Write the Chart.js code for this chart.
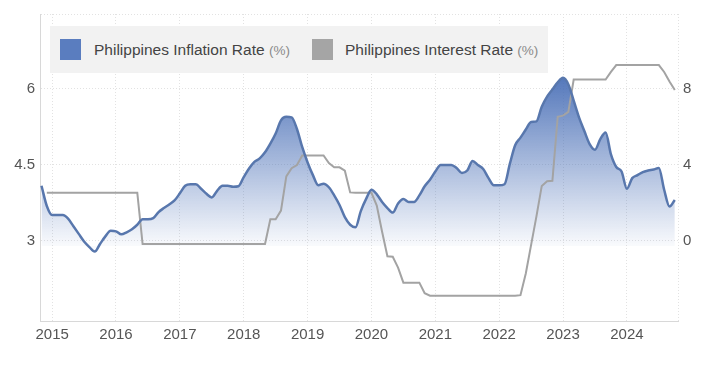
<!DOCTYPE html>
<html>
<head>
<meta charset="utf-8">
<script src="https://cdn.jsdelivr.net/npm/chart.js@4.4.1/dist/chart.umd.min.js"></script>
<style>
  html, body { margin: 0; padding: 0; background: #fff; }
  #wrap { position: relative; width: 720px; height: 365px; }
  #legend {
    position: absolute; left: 50px; top: 26px; width: 498px; height: 47px;
    background: #f2f2f2; color: #444;
    font-family: 'Liberation Sans', Arial, sans-serif; font-size: 15.5px;
  }
  .item { position: absolute; top: 0; height: 47px; line-height: 47px; white-space: nowrap; }
  .swatch { position: absolute; top: 13px; width: 21px; height: 21px; }
  .unit { font-size: 13.5px; color: #8a8a8a; }
</style>
</head>
<body>
<div id="wrap">
  <canvas id="chart" width="720" height="365"></canvas>
  <div id="legend">
    <div class="swatch" style="left:10px;background:#5a7dbf"></div>
    <div class="item" style="left:44px">Philippines Inflation Rate <span class="unit">(%)</span></div>
    <div class="swatch" style="left:262px;background:#a5a5a5"></div>
    <div class="item" style="left:295px">Philippines Interest Rate <span class="unit">(%)</span></div>
  </div>
</div>
<script>
// monthly observations, first one is Nov 2014
const startYear = 2014;
const startMonth = 11;

const inflation = [
  4.09, 3.69, 3.51, 3.51, 3.51, 3.44, 3.29, 3.14, 2.99, 2.88,
  2.79, 2.94, 3.09, 3.20, 3.19, 3.13, 3.17, 3.23, 3.32, 3.43,
  3.43, 3.45, 3.57, 3.65, 3.72, 3.80, 3.94, 4.09, 4.12, 4.12,
  4.03, 3.93, 3.86, 3.99, 4.09, 4.09, 4.07, 4.08, 4.26, 4.43,
  4.56, 4.63, 4.75, 4.92, 5.12, 5.38, 5.45, 5.44, 5.21, 4.85,
  4.55, 4.30, 4.10, 4.13, 4.06, 3.90, 3.71, 3.47, 3.32, 3.27,
  3.59, 3.83, 4.01, 3.92, 3.77, 3.65, 3.56, 3.74, 3.83, 3.77,
  3.77, 3.90, 4.08, 4.21, 4.37, 4.50, 4.50, 4.50, 4.44, 4.34,
  4.39, 4.58, 4.50, 4.42, 4.24, 4.10, 4.10, 4.12, 4.52, 4.89,
  5.04, 5.20, 5.35, 5.36, 5.65, 5.85, 5.99, 6.13, 6.22, 6.09,
  5.77, 5.44, 5.17, 4.91, 4.80, 5.01, 5.14, 4.71, 4.46, 4.37,
  4.03, 4.24, 4.30, 4.36, 4.39, 4.41, 4.44, 4.01, 3.68, 3.81
];

const interest = [
  null, 2.54, 2.54, 2.54, 2.54, 2.54, 2.54, 2.54, 2.54, 2.54,
  2.54, 2.54, 2.54, 2.54, 2.54, 2.54, 2.54, 2.54, 2.54, -0.16,
  -0.16, -0.16, -0.16, -0.16, -0.16, -0.16, -0.16, -0.16, -0.16, -0.16,
  -0.16, -0.16, -0.16, -0.16, -0.16, -0.16, -0.16, -0.16, -0.16, -0.16,
  -0.16, -0.16, -0.16, 1.14, 1.14, 1.60, 3.40, 3.83, 4.00, 4.50,
  4.50, 4.50, 4.50, 4.50, 4.10, 3.88, 3.88, 3.70, 2.56, 2.54,
  2.54, 2.54, 2.54, 1.87, 0.49, -0.80, -0.83, -1.40, -2.19, -2.19,
  -2.19, -2.19, -2.75, -2.88, -2.88, -2.88, -2.88, -2.88, -2.88, -2.88,
  -2.88, -2.88, -2.88, -2.88, -2.88, -2.88, -2.88, -2.88, -2.88, -2.88,
  -2.85, -1.71, -0.20, 1.30, 2.90, 3.15, 3.17, 6.54, 6.60, 6.80,
  8.50, 8.50, 8.50, 8.50, 8.50, 8.50, 8.50, 8.90, 9.26, 9.26,
  9.26, 9.26, 9.26, 9.26, 9.26, 9.26, 9.26, 8.90, 8.40, 7.95
];

const yearTicks = [2015, 2016, 2017, 2018, 2019, 2020, 2021, 2022, 2023, 2024];
const leftTicks = [3, 4.5, 6];
const rightTicks = [0, 4, 8];

// month index -> decimal year for the linear x axis
const months = inflation.map((_, i) => startYear + (startMonth - 1 + i) / 12);

const tickFont = { family: "'Liberation Sans', Arial, sans-serif", size: 15 };
const gridColor = '#e2e2e2';

function inflationFill(context) {
    const chart = context.chart;
    const { chartArea, scales } = chart;
    if (!chartArea) return 'rgba(0,0,0,0)';
    const top = scales.y.getPixelForValue(6.3);
    const bottom = scales.y.getPixelForValue(2.9);
    const g = chart.ctx.createLinearGradient(0, top, 0, bottom);
    g.addColorStop(0, 'rgba(72,110,182,0.95)');
    g.addColorStop(1, 'rgba(72,110,182,0.03)');
    return g;
}

new Chart(document.getElementById('chart').getContext('2d'), {
    type: 'line',
    data: {
        datasets: [{
            label: 'Philippines Inflation Rate',
            data: inflation.map((v, i) => ({ x: months[i], y: v })),
            yAxisID: 'y',
            borderColor: '#5877ad',
            borderWidth: 2.5,
            backgroundColor: inflationFill,
            fill: { value: 2.9 },
            cubicInterpolationMode: 'monotone'
        }, {
            label: 'Philippines Interest Rate',
            data: interest.map((v, i) => ({ x: months[i], y: v })),
            yAxisID: 'y1',
            borderColor: '#a3a3a3',
            borderWidth: 2,
            fill: false,
            tension: 0
        }]
    },
    options: {
        responsive: false,
        animation: false,
        layout: { padding: { top: 14 } },
        elements: { point: { radius: 0 } },
        plugins: {
            legend: { display: false },
            tooltip: { enabled: false },
            filler: { drawTime: 'beforeDatasetsDraw' }
        },
        scales: {
            x: {
                type: 'linear',
                min: 2014.81,
                max: 2024.80,
                afterBuildTicks: s => { s.ticks = yearTicks.map(v => ({ value: v })).concat([{ value: s.max }]); },
                afterFit: s => { s.height = 44; },
                grid: { color: gridColor, drawTicks: false },
                border: { color: '#d8d8d8', dash: [1, 2] },
                ticks: {
                    padding: 5, color: '#555', font: tickFont, maxRotation: 0, autoSkip: false,
                    callback: v => Number.isInteger(v) ? String(v) : ''
                }
            },
            y: {
                position: 'left',
                min: 1.42,
                max: 7.48,
                afterBuildTicks: s => { s.ticks = leftTicks.map(v => ({ value: v })).concat([{ value: s.max }]); },
                afterFit: s => { s.width = 40; },
                grid: { color: gridColor, drawTicks: false },
                border: { color: '#d8d8d8', dash: [1, 2] },
                ticks: {
                    padding: 5, color: '#555', font: tickFont,
                    callback: v => leftTicks.includes(v) ? String(v) : ''
                }
            },
            y1: {
                position: 'right',
                min: -4.21,
                max: 11.95,
                afterBuildTicks: s => { s.ticks = rightTicks.map(v => ({ value: v })); },
                afterFit: s => { s.width = 42; },
                grid: { display: false, drawTicks: false },
                border: { display: false },
                ticks: { padding: 5, color: '#555', font: tickFont }
            }
        }
    }
});
</script>
</body>
</html>
